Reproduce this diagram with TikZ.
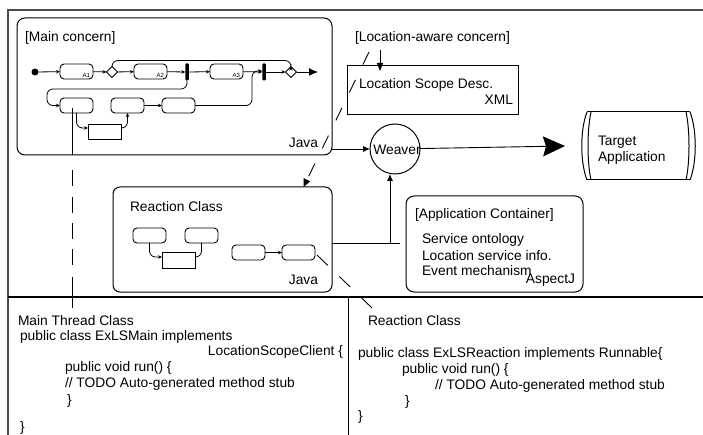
\documentclass[tikz,border=0pt]{standalone}
\usepackage{fontspec}
\setmainfont{Liberation Sans}
\usetikzlibrary{arrows.meta,shapes.geometric}
\begin{document}
\begin{tikzpicture}[x=1pt,y=-1pt,
  font=\fontsize{13.8}{16}\selectfont,
  every node/.style={inner sep=0pt, outer sep=0pt},
  act/.style={draw, rounded corners=4pt, line width=0.9pt, minimum width=33pt, minimum height=15pt, anchor=north west},
  plainbox/.style={draw, line width=0.9pt, minimum width=33pt, minimum height=15pt, anchor=north west},
  dia/.style={draw, diamond, line width=0.9pt, minimum width=11pt, minimum height=11pt},
  forkbar/.style={fill, rounded corners=1pt, minimum width=3.5pt, minimum height=17pt},
  flow/.style={line width=0.8pt, -{Stealth[length=4pt,width=3.5pt]}, rounded corners=6pt},
  conn/.style={line width=0.9pt},
  bigbox/.style={draw, line width=1pt, anchor=north west},
  tl/.style={anchor=west},
  tr/.style={anchor=east},
  albl/.style={font=\fontsize{6}{6}\selectfont, anchor=south east},
]
\useasboundingbox (0,0) rectangle (703,435);
% outer frame
\draw[line width=1.3pt, black!70] (703,10) -- (8,10) -- (8,440);
\draw[line width=1.8pt] (8,297) -- (703,297);
\draw[line width=1pt] (348,297) -- (348,440);

% main concern
\node[bigbox, rounded corners=8pt, minimum width=315pt, minimum height=137pt] (mainbox) at (17,18) {};
\node[tl] (mctitle) at (25,38) {[Main concern]};
\node[tr] (mjava) at (318,143) {Java};

\node[circle, fill, minimum size=7pt] (init) at (35,72) {};
\node[act] (a1) at (60,64) {};
\node[albl] at ([shift={(-3,-1.5)}]a1.south east) {A1};
\node[dia] (d1) at (112,72) {};
\node[act] (a2) at (134,64) {};
\node[albl] at ([shift={(-3,-1.5)}]a2.south east) {A2};
\node[forkbar] (bar1) at (187,72) {};
\node[act] (a3) at (210,64) {};
\node[albl] at ([shift={(-3,-1.5)}]a3.south east) {A3};
\node[forkbar] (bar2) at (264,72) {};
\node[dia] (d2) at (291,72) {};
\coordinate (fin) at (318,72);

\node[act] (b1) at (60,98) {};
\node[act] (b2) at (111,98) {};
\node[act] (b3) at (162,98) {};
\node[plainbox] (r1) at (88,124) {};

\draw[flow] (init) -- (a1);
\draw[flow] (a1) -- (d1);
\draw[flow] (d1) -- (a2);
\draw[flow] (a2) -- (bar1);
\draw[flow] (bar1) -- (a3);
\draw[flow] (a3) -- (bar2);
\draw[flow] (bar2) -- (d2);
\draw[line width=0.9pt, -{Latex[length=9pt,width=8pt]}] (d2) -- (fin);
\draw[flow] (d1.north) -- ([yshift=6pt]d1.north) -| (d2.north);
\draw[flow] (bar1.south) -- (187,89) -- (47,89) -- (47,105.5) -- (b1.west);
\draw[flow] (b1.south) |- ([yshift=3.5pt]r1.west);
\draw[flow] ([yshift=3.5pt]r1.east) -| (b2.south);
\draw[flow] (b2) -- (b3);
\draw[flow] (b3.east) -- (252,105.5) -- (252,71) -- ([yshift=1pt]bar2.west);

% main thread dashed line
\coordinate (mtc) at (72,308);
\draw[conn, dash pattern=on 47pt off 15pt on 16pt off 11pt on 16pt off 10pt on 16pt off 10pt on 16pt off 12pt on 40pt]
  ([shift={(-4.5,-5)}]b1.south) -- (mtc);

% location-aware concern
\node[tl] (lac) at (355,38) {[Location-aware concern]};
\node[bigbox, minimum width=171pt, minimum height=49pt] (lsd) at (347,66) {};
\node[tl] (lsdt) at (359,85) {Location Scope Desc.};
\node[tr] (xml) at (513,100) {XML};
\coordinate (lacb) at (380,50);
\draw[conn, shorten >=-5pt, -{Triangle[length=8pt,width=6pt]}] (lacb) -- (lacb |- lsd.north);

% weaver
\node[draw, circle, line width=1pt, minimum size=50pt] (weaver) at (395,149) {};
\node (wt) at (397,150) {Weaver};
\draw[conn, -{Latex[length=7pt,width=6pt]}] (mainbox.east |- weaver) -- (weaver);

% target application
\node[minimum width=113pt, minimum height=68pt, anchor=north west] (ta) at (582,112) {};
\draw[line width=1pt] (587,112) -- (690,112) (587,180) -- (690,180);
\draw[line width=1pt] (587,112) .. controls (580,130) and (580,162) .. (587,180);
\draw[line width=1pt] (591,112) .. controls (587,130) and (587,162) .. (591,180);
\draw[line width=1pt] (690,112) .. controls (697,130) and (697,162) .. (690,180);
\draw[line width=1pt] (686,112) .. controls (690,130) and (690,162) .. (686,180);
\node[tl, align=left] (tat) at (598,150) {Target\\Application};
\draw[conn, -{Stealth[length=22pt,width=20pt,inset=3pt]}] (weaver) -- ([xshift=-17pt]ta.west);

% dashed diagonal from location-aware concern to reaction class
\node[bigbox, rounded corners=7pt, minimum width=219pt, minimum height=105pt] (rc) at (113,187) {};
\coordinate (lacs) at (369,52);
\draw[conn, dash pattern=on 14pt off 17pt, -{Triangle[length=8pt,width=7pt]}] (lacs) -- ([xshift=-28.5pt]rc.north east);

% reaction class contents
\node[tl] (rct) at (130,207) {Reaction Class};
\node[act] (c1) at (133,228) {};
\node[act] (c2) at (185,228) {};
\node[plainbox, minimum height=16pt] (r2) at (162,252) {};
\node[act] (c3) at (232,245) {};
\node[act] (c4) at (282,245) {};
\draw[flow] (c1.south) |- ([yshift=3pt]r2.west);
\draw[line width=0.8pt, rounded corners=6pt] (c2.south) |- ([yshift=3pt]r2.east);
\draw[flow] (c3) -- (c4);
\node[tr] (rjava) at (318,280) {Java};
\coordinate (rcl) at (372,308);
\draw[conn, dash pattern=on 15pt off 16pt] ([shift={(2,2.5)}]c4.east) -- (rcl);

% reaction -> weaver
\coordinate (acj) at (400,243);
\coordinate (jn) at (390,243);
\draw[conn] ([yshift=-3.5pt]rc.east) -- (acj);
\draw[conn, -{Latex[length=7pt,width=6pt]}] (jn) -- (jn |- weaver.south);

% application container
\node[bigbox, rounded corners=8pt, minimum width=177pt, minimum height=96pt] (ac) at (406,196) {};
\node[tl] (act1) at (415,215) {[Application Container]};
\node[tl] (act2) at (422,240) {Service ontology};
\node[tl] (act3) at (422,256) {Location service info.};
\node[tl] (act4) at (422,271) {Event mechanism};
\node[tr] (act5) at (575,280) {AspectJ};

% bottom left
\node[tl] (l1) at (18,321) {Main Thread Class};
\node[tl] (l2) at (20,337) {public class ExLSMain implements};
\node[tr] (l3) at (343,352) {LocationScopeClient \{};
\node[tl] (l4) at (65,368) {public void run() \{};
\node[tl] (l5) at (65,384) {// TODO Auto-generated method stub};
\node[tl] (l6) at (67,401) {\}};
\node[tl] (l7) at (20,428) {\}};

% bottom right
\node[tl] (r1t) at (368,321) {Reaction Class};
\node[tl] (r2t) at (358,354) {public class ExLSReaction implements Runnable\{};
\node[tl] (r3t) at (402,370) {public void run() \{};
\node[tl] (r4t) at (435,386) {// TODO Auto-generated method stub};
\node[tl] (r5t) at (405,402) {\}};
\node[tl] (r6t) at (358,417) {\}};
\end{tikzpicture}
\end{document}
